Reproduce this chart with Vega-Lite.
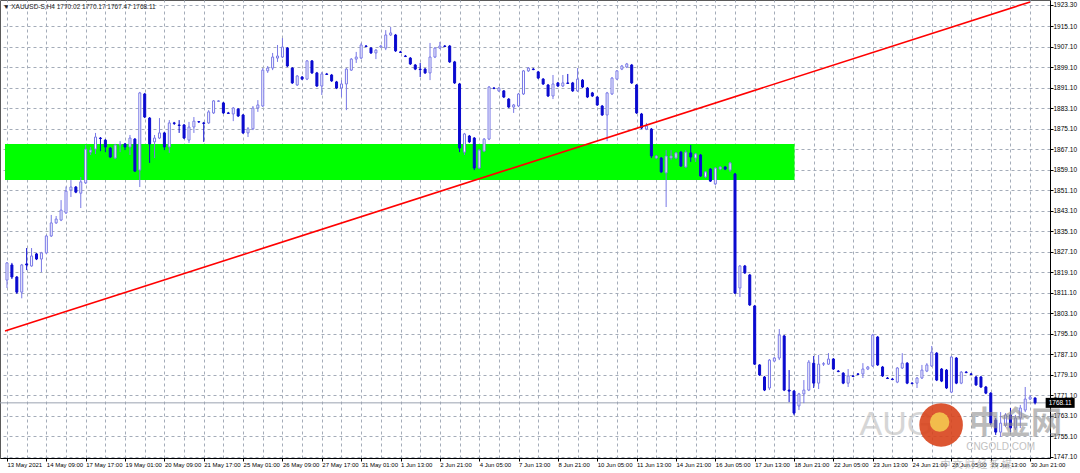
{
  "$schema": "https://vega.github.io/schema/vega-lite/v6.json",
  "width": 1050,
  "height": 458,
  "autosize": {"type": "none"},
  "padding": {"left": 0, "top": 0, "right": 30, "bottom": 15},
  "background": "#ffffff",
  "config": {
    "view": {"stroke": "#5a5a5a", "strokeWidth": 1},
    "font": "Liberation Sans",
    "axis": {"labelFont": "Liberation Sans", "labelFontSize": 6.5, "labelColor": "#000000", "tickColor": "#000000", "domainColor": "#000000", "gridColor": "#a4acb9", "gridDash": [3, 3], "gridOpacity": 1, "title": null, "labelOverlap": false, "labelSeparation": 0},
    "axisY": {"labelOverlap": false, "labelBound": false, "labelFlush": false}
  },
  "title": {"text": "▼ XAUUSD-S,H4 1770.02 1770.17 1767.47 1768.11", "anchor": "start", "frame": "group", "orient": "top", "baseline": "bottom", "offset": -16, "dx": 3, "fontSize": 6.5, "fontWeight": "normal", "color": "#222222", "font": "Liberation Sans"},
  "datasets": {
    "zone": [{"x0": -0.4027, "x1": 160.1, "p0": 1855.0, "p1": 1869.1}],
    "trend": [{"i": -0.4027, "p": 1796.1}, {"i": 208, "p": 1924.5}],
    "last": [{"p": 1768.11, "label": "1768.11"}],
    "candles": [
      {"i":0,"o":1816.0,"h":1823.0,"l":1812.9,"c":1822.7},
      {"i":1,"o":1821.9,"h":1822.7,"l":1816.4,"c":1817.2},
      {"i":2,"o":1817.2,"h":1817.6,"l":1810.6,"c":1811.3},
      {"i":3,"o":1811.3,"h":1822.3,"l":1808.9,"c":1821.9},
      {"i":4,"o":1822.3,"h":1828.5,"l":1819.9,"c":1821.9},
      {"i":5,"o":1821.5,"h":1828.5,"l":1821.2,"c":1825.4},
      {"i":6,"o":1826.2,"h":1826.6,"l":1823.8,"c":1824.2},
      {"i":7,"o":1824.2,"h":1827.0,"l":1819.1,"c":1826.6},
      {"i":8,"o":1826.6,"h":1833.6,"l":1826.2,"c":1833.2},
      {"i":9,"o":1833.2,"h":1841.4,"l":1832.8,"c":1838.3},
      {"i":10,"o":1838.3,"h":1841.0,"l":1837.9,"c":1839.8},
      {"i":11,"o":1839.4,"h":1847.2,"l":1839.0,"c":1843.3},
      {"i":12,"o":1842.2,"h":1852.5,"l":1841.8,"c":1850.7},
      {"i":13,"o":1851.1,"h":1855.0,"l":1848.4,"c":1852.3},
      {"i":14,"o":1852.3,"h":1852.7,"l":1849.9,"c":1850.3},
      {"i":15,"o":1849.9,"h":1856.2,"l":1844.1,"c":1854.3},
      {"i":16,"o":1853.9,"h":1868.7,"l":1853.5,"c":1867.1},
      {"i":17,"o":1865.9,"h":1867.9,"l":1864.8,"c":1866.7},
      {"i":18,"o":1867.1,"h":1873.4,"l":1865.2,"c":1871.8},
      {"i":19,"o":1871.4,"h":1871.8,"l":1866.3,"c":1871.2},
      {"i":20,"o":1870.6,"h":1871.0,"l":1865.9,"c":1867.9},
      {"i":21,"o":1867.5,"h":1867.9,"l":1863.6,"c":1864.0},
      {"i":22,"o":1863.6,"h":1869.1,"l":1863.2,"c":1868.7},
      {"i":23,"o":1868.7,"h":1870.2,"l":1865.9,"c":1868.9},
      {"i":24,"o":1869.1,"h":1869.5,"l":1866.7,"c":1867.9},
      {"i":25,"o":1867.9,"h":1872.6,"l":1864.8,"c":1871.4},
      {"i":26,"o":1871.0,"h":1871.4,"l":1858.2,"c":1858.5},
      {"i":27,"o":1858.9,"h":1889.4,"l":1852.3,"c":1889.0},
      {"i":28,"o":1888.6,"h":1889.0,"l":1879.2,"c":1879.6},
      {"i":29,"o":1879.2,"h":1879.6,"l":1861.7,"c":1869.1},
      {"i":30,"o":1869.9,"h":1872.6,"l":1863.6,"c":1871.4},
      {"i":31,"o":1871.4,"h":1879.2,"l":1871.0,"c":1873.4},
      {"i":32,"o":1873.4,"h":1873.8,"l":1866.7,"c":1867.9},
      {"i":33,"o":1867.9,"h":1878.4,"l":1865.6,"c":1877.3},
      {"i":34,"o":1877.3,"h":1877.7,"l":1876.5,"c":1877.1},
      {"i":35,"o":1876.5,"h":1878.4,"l":1873.4,"c":1876.3},
      {"i":36,"o":1876.5,"h":1876.9,"l":1871.0,"c":1871.4},
      {"i":37,"o":1870.6,"h":1877.7,"l":1869.5,"c":1875.7},
      {"i":38,"o":1875.7,"h":1879.6,"l":1873.4,"c":1878.0},
      {"i":39,"o":1877.8,"h":1878.0,"l":1877.3,"c":1877.7},
      {"i":40,"o":1877.3,"h":1877.7,"l":1869.9,"c":1877.1},
      {"i":41,"o":1877.3,"h":1882.3,"l":1876.9,"c":1881.6},
      {"i":42,"o":1881.2,"h":1886.2,"l":1880.8,"c":1885.9},
      {"i":43,"o":1885.7,"h":1886.2,"l":1885.5,"c":1885.9},
      {"i":44,"o":1885.1,"h":1885.5,"l":1880.8,"c":1881.2},
      {"i":45,"o":1881.2,"h":1881.6,"l":1880.8,"c":1881.0},
      {"i":46,"o":1880.8,"h":1883.5,"l":1878.0,"c":1883.1},
      {"i":47,"o":1882.7,"h":1883.1,"l":1879.6,"c":1880.0},
      {"i":48,"o":1880.4,"h":1880.8,"l":1873.0,"c":1873.4},
      {"i":49,"o":1873.4,"h":1875.7,"l":1871.8,"c":1875.0},
      {"i":50,"o":1875.0,"h":1883.9,"l":1874.5,"c":1883.1},
      {"i":51,"o":1883.1,"h":1886.2,"l":1881.6,"c":1884.3},
      {"i":52,"o":1883.9,"h":1898.7,"l":1883.5,"c":1897.9},
      {"i":53,"o":1897.6,"h":1899.5,"l":1896.8,"c":1898.7},
      {"i":54,"o":1898.7,"h":1904.6,"l":1897.9,"c":1903.0},
      {"i":55,"o":1902.6,"h":1907.7,"l":1901.1,"c":1903.4},
      {"i":56,"o":1903.0,"h":1910.4,"l":1902.6,"c":1906.9},
      {"i":57,"o":1906.5,"h":1906.9,"l":1899.1,"c":1899.5},
      {"i":58,"o":1898.7,"h":1899.1,"l":1892.5,"c":1892.9},
      {"i":59,"o":1892.1,"h":1896.0,"l":1891.7,"c":1895.6},
      {"i":60,"o":1895.2,"h":1895.6,"l":1894.0,"c":1894.4},
      {"i":61,"o":1894.4,"h":1901.8,"l":1894.0,"c":1901.5},
      {"i":62,"o":1901.5,"h":1901.8,"l":1896.4,"c":1896.8},
      {"i":63,"o":1896.8,"h":1897.2,"l":1891.3,"c":1891.7},
      {"i":64,"o":1891.7,"h":1897.2,"l":1888.2,"c":1896.4},
      {"i":65,"o":1896.4,"h":1896.8,"l":1896.0,"c":1896.2},
      {"i":66,"o":1896.0,"h":1896.4,"l":1893.3,"c":1893.7},
      {"i":67,"o":1893.3,"h":1893.7,"l":1890.5,"c":1890.9},
      {"i":68,"o":1890.9,"h":1894.0,"l":1887.4,"c":1892.5},
      {"i":69,"o":1892.5,"h":1898.7,"l":1882.3,"c":1898.3},
      {"i":70,"o":1897.9,"h":1902.6,"l":1897.6,"c":1902.2},
      {"i":71,"o":1902.2,"h":1905.0,"l":1900.7,"c":1903.0},
      {"i":72,"o":1902.6,"h":1908.5,"l":1902.2,"c":1907.7},
      {"i":73,"o":1907.3,"h":1907.7,"l":1906.9,"c":1907.1},
      {"i":74,"o":1906.5,"h":1906.9,"l":1904.2,"c":1904.6},
      {"i":75,"o":1904.6,"h":1906.1,"l":1902.2,"c":1905.7},
      {"i":76,"o":1906.9,"h":1907.7,"l":1906.5,"c":1907.3},
      {"i":77,"o":1906.5,"h":1913.5,"l":1905.7,"c":1911.6},
      {"i":78,"o":1911.6,"h":1914.7,"l":1911.2,"c":1912.4},
      {"i":79,"o":1911.6,"h":1912.0,"l":1905.0,"c":1905.4},
      {"i":80,"o":1905.0,"h":1905.4,"l":1904.6,"c":1904.8},
      {"i":81,"o":1903.4,"h":1903.8,"l":1903.0,"c":1903.2},
      {"i":82,"o":1902.6,"h":1903.0,"l":1899.9,"c":1900.3},
      {"i":83,"o":1899.9,"h":1900.3,"l":1897.9,"c":1898.3},
      {"i":84,"o":1898.3,"h":1900.7,"l":1895.2,"c":1898.1},
      {"i":85,"o":1898.3,"h":1898.7,"l":1896.4,"c":1896.8},
      {"i":86,"o":1896.8,"h":1908.5,"l":1894.0,"c":1903.0},
      {"i":87,"o":1903.0,"h":1906.9,"l":1902.6,"c":1906.5},
      {"i":88,"o":1906.5,"h":1908.9,"l":1906.1,"c":1907.3},
      {"i":89,"o":1907.3,"h":1907.7,"l":1906.9,"c":1907.1},
      {"i":90,"o":1907.3,"h":1907.7,"l":1900.7,"c":1901.1},
      {"i":91,"o":1901.1,"h":1901.5,"l":1892.5,"c":1892.9},
      {"i":92,"o":1892.5,"h":1892.9,"l":1865.9,"c":1867.5},
      {"i":93,"o":1865.9,"h":1873.4,"l":1864.8,"c":1873.0},
      {"i":94,"o":1872.2,"h":1872.6,"l":1869.5,"c":1869.9},
      {"i":95,"o":1871.4,"h":1871.8,"l":1858.9,"c":1859.7},
      {"i":96,"o":1859.7,"h":1867.1,"l":1859.3,"c":1866.7},
      {"i":97,"o":1866.3,"h":1871.4,"l":1865.9,"c":1871.0},
      {"i":98,"o":1871.0,"h":1891.7,"l":1870.6,"c":1891.3},
      {"i":99,"o":1890.9,"h":1891.3,"l":1890.5,"c":1890.7},
      {"i":100,"o":1889.8,"h":1891.3,"l":1889.4,"c":1890.9},
      {"i":101,"o":1889.8,"h":1890.1,"l":1887.0,"c":1887.4},
      {"i":102,"o":1886.6,"h":1887.0,"l":1883.1,"c":1883.5},
      {"i":103,"o":1883.5,"h":1884.7,"l":1881.2,"c":1884.3},
      {"i":104,"o":1883.9,"h":1889.0,"l":1883.5,"c":1888.6},
      {"i":105,"o":1888.6,"h":1897.9,"l":1888.2,"c":1897.6},
      {"i":106,"o":1897.6,"h":1899.1,"l":1897.2,"c":1898.7},
      {"i":107,"o":1898.3,"h":1898.7,"l":1897.9,"c":1898.1},
      {"i":108,"o":1897.2,"h":1897.6,"l":1894.4,"c":1894.8},
      {"i":109,"o":1894.4,"h":1894.8,"l":1892.1,"c":1892.5},
      {"i":110,"o":1892.1,"h":1892.5,"l":1887.4,"c":1887.8},
      {"i":111,"o":1887.8,"h":1896.0,"l":1886.6,"c":1892.5},
      {"i":112,"o":1892.9,"h":1893.3,"l":1891.3,"c":1891.7},
      {"i":113,"o":1891.7,"h":1896.0,"l":1891.3,"c":1892.9},
      {"i":114,"o":1892.9,"h":1896.4,"l":1892.5,"c":1892.7},
      {"i":115,"o":1892.9,"h":1893.3,"l":1889.4,"c":1889.8},
      {"i":116,"o":1889.8,"h":1898.7,"l":1889.4,"c":1894.4},
      {"i":117,"o":1894.0,"h":1894.4,"l":1890.9,"c":1891.3},
      {"i":118,"o":1890.9,"h":1891.3,"l":1887.0,"c":1887.4},
      {"i":119,"o":1889.0,"h":1889.4,"l":1887.4,"c":1887.8},
      {"i":120,"o":1887.4,"h":1887.8,"l":1883.9,"c":1884.3},
      {"i":121,"o":1883.9,"h":1884.3,"l":1880.0,"c":1880.4},
      {"i":122,"o":1880.4,"h":1889.4,"l":1870.2,"c":1889.0},
      {"i":123,"o":1888.6,"h":1895.2,"l":1888.2,"c":1894.8},
      {"i":124,"o":1894.4,"h":1897.9,"l":1894.0,"c":1897.6},
      {"i":125,"o":1898.3,"h":1899.9,"l":1897.9,"c":1899.5},
      {"i":126,"o":1899.1,"h":1900.7,"l":1898.7,"c":1900.3},
      {"i":127,"o":1899.9,"h":1900.3,"l":1892.5,"c":1892.9},
      {"i":128,"o":1892.1,"h":1892.5,"l":1880.8,"c":1881.2},
      {"i":129,"o":1880.8,"h":1881.2,"l":1874.9,"c":1875.3},
      {"i":130,"o":1874.9,"h":1877.3,"l":1874.5,"c":1876.1},
      {"i":131,"o":1874.9,"h":1875.3,"l":1863.6,"c":1864.4},
      {"i":132,"o":1863.6,"h":1864.8,"l":1863.2,"c":1864.4},
      {"i":133,"o":1863.6,"h":1864.0,"l":1857.8,"c":1858.2},
      {"i":134,"o":1857.8,"h":1866.7,"l":1844.5,"c":1864.4},
      {"i":135,"o":1863.6,"h":1866.7,"l":1862.8,"c":1864.4},
      {"i":136,"o":1863.6,"h":1865.9,"l":1863.2,"c":1865.6},
      {"i":137,"o":1865.9,"h":1866.3,"l":1860.1,"c":1860.5},
      {"i":138,"o":1860.1,"h":1866.7,"l":1859.7,"c":1865.9},
      {"i":139,"o":1865.6,"h":1868.7,"l":1862.1,"c":1864.0},
      {"i":140,"o":1863.6,"h":1865.6,"l":1862.1,"c":1865.2},
      {"i":141,"o":1864.8,"h":1865.2,"l":1856.2,"c":1856.6},
      {"i":142,"o":1856.2,"h":1858.5,"l":1855.8,"c":1858.2},
      {"i":143,"o":1859.3,"h":1859.7,"l":1854.3,"c":1854.6},
      {"i":144,"o":1853.5,"h":1860.1,"l":1853.1,"c":1859.7},
      {"i":145,"o":1859.3,"h":1860.5,"l":1858.9,"c":1860.1},
      {"i":146,"o":1860.1,"h":1860.5,"l":1858.9,"c":1859.3},
      {"i":147,"o":1858.9,"h":1862.1,"l":1858.2,"c":1861.7},
      {"i":148,"o":1857.4,"h":1857.8,"l":1810.6,"c":1810.9},
      {"i":149,"o":1812.9,"h":1821.9,"l":1809.4,"c":1821.5},
      {"i":150,"o":1821.5,"h":1821.9,"l":1818.4,"c":1818.8},
      {"i":151,"o":1818.0,"h":1818.4,"l":1805.9,"c":1806.3},
      {"i":152,"o":1805.9,"h":1806.3,"l":1782.9,"c":1783.2},
      {"i":153,"o":1782.9,"h":1783.2,"l":1778.6,"c":1779.0},
      {"i":154,"o":1778.2,"h":1778.6,"l":1772.7,"c":1773.1},
      {"i":155,"o":1773.9,"h":1785.2,"l":1773.1,"c":1784.8},
      {"i":156,"o":1784.4,"h":1786.0,"l":1784.0,"c":1785.6},
      {"i":157,"o":1785.6,"h":1796.9,"l":1784.8,"c":1794.6},
      {"i":158,"o":1794.2,"h":1794.6,"l":1772.7,"c":1773.1},
      {"i":159,"o":1773.1,"h":1780.9,"l":1768.4,"c":1772.7},
      {"i":160,"o":1772.7,"h":1773.1,"l":1763.3,"c":1764.1},
      {"i":161,"o":1766.9,"h":1772.0,"l":1765.3,"c":1771.6},
      {"i":162,"o":1771.6,"h":1777.0,"l":1768.0,"c":1773.1},
      {"i":163,"o":1773.1,"h":1784.8,"l":1772.7,"c":1784.0},
      {"i":164,"o":1783.6,"h":1786.4,"l":1773.9,"c":1775.8},
      {"i":165,"o":1775.8,"h":1786.8,"l":1773.5,"c":1783.2},
      {"i":166,"o":1783.2,"h":1784.0,"l":1782.5,"c":1783.4},
      {"i":167,"o":1783.2,"h":1787.5,"l":1782.9,"c":1785.2},
      {"i":168,"o":1785.2,"h":1785.6,"l":1780.9,"c":1781.3},
      {"i":169,"o":1780.5,"h":1780.9,"l":1780.1,"c":1780.3},
      {"i":170,"o":1779.7,"h":1780.1,"l":1775.4,"c":1775.8},
      {"i":171,"o":1775.8,"h":1781.3,"l":1774.3,"c":1778.6},
      {"i":172,"o":1778.6,"h":1779.0,"l":1778.2,"c":1778.4},
      {"i":173,"o":1779.4,"h":1779.7,"l":1779.0,"c":1779.2},
      {"i":174,"o":1779.4,"h":1783.6,"l":1777.8,"c":1781.3},
      {"i":175,"o":1781.3,"h":1782.5,"l":1780.9,"c":1782.1},
      {"i":176,"o":1782.5,"h":1795.0,"l":1782.1,"c":1794.6},
      {"i":177,"o":1793.8,"h":1794.2,"l":1782.5,"c":1782.9},
      {"i":178,"o":1782.1,"h":1782.5,"l":1778.2,"c":1778.6},
      {"i":179,"o":1777.8,"h":1778.2,"l":1777.4,"c":1777.6},
      {"i":180,"o":1777.4,"h":1777.8,"l":1777.0,"c":1777.2},
      {"i":181,"o":1776.2,"h":1782.1,"l":1775.8,"c":1781.7},
      {"i":182,"o":1781.7,"h":1787.5,"l":1781.3,"c":1783.6},
      {"i":183,"o":1783.6,"h":1784.0,"l":1775.4,"c":1775.8},
      {"i":184,"o":1775.8,"h":1776.2,"l":1775.4,"c":1775.6},
      {"i":185,"o":1775.8,"h":1778.2,"l":1773.9,"c":1777.8},
      {"i":186,"o":1777.8,"h":1782.9,"l":1777.4,"c":1780.9},
      {"i":187,"o":1780.5,"h":1783.6,"l":1780.1,"c":1782.9},
      {"i":188,"o":1782.5,"h":1790.3,"l":1782.1,"c":1787.9},
      {"i":189,"o":1787.5,"h":1787.9,"l":1776.6,"c":1777.0},
      {"i":190,"o":1781.3,"h":1781.7,"l":1776.2,"c":1776.6},
      {"i":191,"o":1780.9,"h":1781.3,"l":1773.5,"c":1773.9},
      {"i":192,"o":1772.3,"h":1786.4,"l":1771.9,"c":1786.0},
      {"i":193,"o":1785.6,"h":1786.0,"l":1775.4,"c":1775.8},
      {"i":194,"o":1775.8,"h":1780.5,"l":1775.4,"c":1780.1},
      {"i":195,"o":1780.1,"h":1780.5,"l":1779.7,"c":1779.9},
      {"i":196,"o":1779.4,"h":1779.7,"l":1779.0,"c":1779.2},
      {"i":197,"o":1778.2,"h":1778.6,"l":1774.7,"c":1775.1},
      {"i":198,"o":1778.2,"h":1778.6,"l":1773.9,"c":1774.3},
      {"i":199,"o":1774.3,"h":1774.7,"l":1771.5,"c":1771.9},
      {"i":200,"o":1771.9,"h":1772.3,"l":1759.4,"c":1760.2},
      {"i":201,"o":1761.4,"h":1762.2,"l":1755.6,"c":1756.7},
      {"i":202,"o":1756.7,"h":1764.5,"l":1754.8,"c":1760.2},
      {"i":203,"o":1759.4,"h":1764.1,"l":1758.7,"c":1763.4},
      {"i":204,"o":1763.4,"h":1766.1,"l":1756.7,"c":1758.3},
      {"i":205,"o":1758.3,"h":1763.4,"l":1757.5,"c":1762.2},
      {"i":206,"o":1762.2,"h":1767.3,"l":1758.3,"c":1766.1},
      {"i":207,"o":1765.3,"h":1774.3,"l":1764.5,"c":1769.6},
      {"i":208,"o":1769.6,"h":1771.2,"l":1769.2,"c":1770.4},
      {"i":209,"o":1770.02,"h":1770.17,"l":1767.47,"c":1768.11}
    ]
  },
  "layer": [
    {
      "data": {"name": "zone"},
      "mark": {"type": "rect", "color": "#00ff00", "clip": true},
      "encoding": {
        "x": {"field": "x0", "type": "quantitative", "scale": {"domain": [-0.4027, 211.02], "nice": false, "zero": false},
              "axis": {"orient": "top", "tickCount": 200, "values": [0,4,8,12,16,20,24,28,32,36,40,44,48,52,56,60,64,68,72,76,80,84,88,92,96,100,104,108,112,116,120,124,128,132,136,140,144,148,152,156,160,164,168,172,176,180,184,188,192,196,200,204,208], "grid": true, "labels": false, "ticks": false, "domain": false}},
        "x2": {"field": "x1"},
        "y": {"field": "p0", "type": "quantitative", "scale": {"domain": [1746.6, 1925.25], "nice": false, "zero": false},
              "axis": {"orient": "right", "tickCount": 200, "values": [1747.1,1755.1,1763.1,1771.1,1779.1,1787.1,1795.1,1803.1,1811.1,1819.1,1827.1,1835.1,1843.1,1851.1,1859.1,1867.1,1875.1,1883.1,1891.1,1899.1,1907.1,1915.1,1923.3], "format": ".2f", "grid": true, "tickSize": 3, "labelPadding": 0, "labelBaseline": "middle", "labelAlign": "left", "labelBound": false, "labelOverlap": false, "labelSeparation": 0, "labelFlush": false}},
        "y2": {"field": "p1"}
      }
    },
    {
      "data": {"name": "last"},
      "mark": {"type": "rule", "color": "#9aa3b0", "strokeWidth": 1},
      "encoding": {"y": {"field": "p", "type": "quantitative"}}
    },
    {
      "data": {"name": "candles"},
      "mark": {"type": "rule", "strokeWidth": 1},
      "encoding": {
        "x": {"field": "i", "type": "quantitative",
              "axis": {"orient": "bottom", "tickCount": 200, "values": [0,8,16,24,32,40,48,56,64,72,80,88,96,104,112,120,128,136,144,152,160,168,176,184,192,200,208], "grid": false, "tickSize": 3, "labelPadding": 0, "labelAlign": "left", "labelBaseline": "top", "labelDx": 2, "labelFontSize": 6, "labelFlush": false, "labelOverlap": false, "labelBound": false,
                       "labelExpr": "['13 May 2021','14 May 09:00','17 May 17:00','19 May 01:00','20 May 09:00','21 May 17:00','25 May 01:00','26 May 09:00','27 May 17:00','31 May 01:00','1 Jun 13:00','2 Jun 21:00','4 Jun 05:00','7 Jun 13:00','8 Jun 21:00','10 Jun 05:00','11 Jun 13:00','14 Jun 21:00','16 Jun 05:00','17 Jun 13:00','18 Jun 21:00','22 Jun 05:00','23 Jun 13:00','24 Jun 21:00','28 Jun 05:00','29 Jun 13:00','30 Jun 21:00'][round(datum.value/8)]"}},
        "y": {"field": "l", "type": "quantitative"},
        "y2": {"field": "h"},
        "color": {"condition": {"test": "datum.c >= datum.o", "value": "#7878e6"}, "value": "#0a0acf"}
      }
    },
    {
      "data": {"name": "candles"},
      "mark": {"type": "bar", "size": 2, "strokeWidth": 1},
      "encoding": {
        "x": {"field": "i", "type": "quantitative", "axis": null},
        "y": {"field": "o", "type": "quantitative"},
        "y2": {"field": "c"},
        "fill": {"condition": {"test": "datum.c >= datum.o", "value": "#ffffff"}, "value": "#0a0acf"},
        "stroke": {"condition": {"test": "datum.c >= datum.o", "value": "#7878e6"}, "value": "#0a0acf"}
      }
    },
    {
      "data": {"name": "trend"},
      "mark": {"type": "line", "color": "#ff0000", "strokeWidth": 1.6, "clip": true},
      "encoding": {
        "x": {"field": "i", "type": "quantitative", "axis": null},
        "y": {"field": "p", "type": "quantitative"}
      }
    },
    {
      "data": {"name": "last"},
      "mark": {"type": "text", "text": "AUG", "font": "Liberation Sans", "fontSize": 34, "color": "#c9c9c9", "opacity": 0.75, "align": "center", "baseline": "middle"},
      "encoding": {
        "x": {"datum": 180.8, "type": "quantitative", "axis": null},
        "y": {"datum": 1759.5, "type": "quantitative"}
      }
    },
    {
      "data": {"name": "last"},
      "mark": {"type": "point", "shape": "circle", "filled": true, "size": 1900, "color": "#d8441c", "opacity": 0.9},
      "encoding": {
        "x": {"datum": 189.9, "type": "quantitative", "axis": null},
        "y": {"datum": 1759.5, "type": "quantitative"}
      }
    },
    {
      "data": {"name": "last"},
      "mark": {"type": "point", "shape": "circle", "filled": true, "size": 380, "color": "#f2c24e", "opacity": 0.95},
      "encoding": {
        "x": {"datum": 189.6, "type": "quantitative", "axis": null},
        "y": {"datum": 1760.6, "type": "quantitative"}
      }
    },
    {
      "data": {"name": "last"},
      "mark": {"type": "text", "text": "中金网", "font": "Noto Sans CJK SC", "fontWeight": "bold", "fontSize": 31, "color": "#8f8f8f", "opacity": 0.6, "align": "center", "baseline": "middle"},
      "encoding": {
        "x": {"datum": 205.0, "type": "quantitative", "axis": null},
        "y": {"datum": 1759.8, "type": "quantitative"}
      }
    },
    {
      "data": {"name": "last"},
      "mark": {"type": "text", "text": "CNGOLD.COM", "font": "Liberation Sans", "fontSize": 10, "color": "#a8a8a8", "opacity": 0.7, "align": "center", "baseline": "middle"},
      "encoding": {
        "x": {"datum": 202.0, "type": "quantitative", "axis": null},
        "y": {"datum": 1750.9, "type": "quantitative"}
      }
    },
    {
      "data": {"name": "last"},
      "mark": {"type": "text", "text": "中 文 财 经 新 媒", "font": "Noto Sans CJK SC", "fontSize": 10, "color": "#a8a8a8", "opacity": 0.7, "align": "center", "baseline": "middle"},
      "encoding": {
        "x": {"datum": 197.0, "type": "quantitative", "axis": null},
        "y": {"datum": 1743.9, "type": "quantitative"}
      }
    },
    {
      "data": {"name": "last"},
      "mark": {"type": "tick", "orient": "horizontal", "size": 29, "thickness": 10, "color": "#000000", "opacity": 1},
      "encoding": {
        "x": {"datum": 214.1, "type": "quantitative", "axis": null},
        "y": {"field": "p", "type": "quantitative"}
      }
    },
    {
      "data": {"name": "last"},
      "mark": {"type": "text", "color": "#ffffff", "fontSize": 6.5, "font": "Liberation Sans", "align": "center", "baseline": "middle"},
      "encoding": {
        "x": {"datum": 214.1, "type": "quantitative", "axis": null},
        "y": {"field": "p", "type": "quantitative"},
        "text": {"field": "label"}
      }
    }
  ]
}
